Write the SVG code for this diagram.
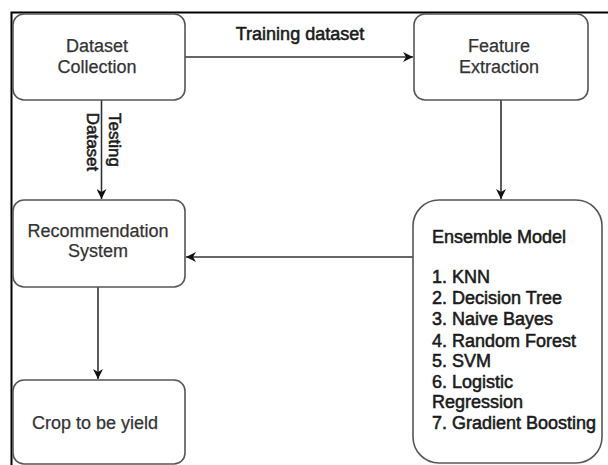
<svg xmlns="http://www.w3.org/2000/svg" width="608" height="465" viewBox="0 0 608 465">
<style>
.box{fill:#fff;stroke:#555;stroke-width:1.6}
.lbl{font-family:"Liberation Sans",Arial,sans-serif;font-size:18px;fill:#333;stroke:#333;stroke-width:0.25}
.dark{font-family:"Liberation Sans",Arial,sans-serif;font-size:18px;fill:#1a1a1a;stroke:#1a1a1a;stroke-width:0.55}
.edge{fill:none;stroke:#333;stroke-width:1.6}
</style>
<defs>
<marker id="arr" markerUnits="userSpaceOnUse" markerWidth="12" markerHeight="10" refX="10" refY="5" orient="auto">
<path d="M0,0 L10,5 L0,10 L3,5 Z" fill="#111"/>
</marker>
</defs>
<rect width="608" height="465" fill="#fff"/>
<g id="frame">
<path d="M11.5,465 V12.5 H608" fill="none" stroke="#000" stroke-width="2"/>
</g>
<g id="connectors">
<path class="edge" d="M185,57 H413" marker-end="url(#arr)"/>
<path class="edge" d="M501,100 V199" marker-end="url(#arr)"/>
<path class="edge" d="M101.5,100 V199" marker-end="url(#arr)"/>
<path class="edge" d="M413,257 H186" marker-end="url(#arr)"/>
<path class="edge" d="M98,287 V379" marker-end="url(#arr)"/>
<text class="dark" x="300" y="40" text-anchor="middle">Training dataset</text>
<text class="dark" transform="translate(109,140) rotate(90)" text-anchor="middle" style="font-size:17px">Testing</text>
<text class="dark" transform="translate(87,142) rotate(90)" text-anchor="middle" style="font-size:17px">Dataset</text>
</g>
<g id="dataset-collection">
<rect class="box" x="13" y="14" width="172" height="86" rx="11"/>
<text class="lbl" x="97" y="52" text-anchor="middle">Dataset</text>
<text class="lbl" x="97" y="73" text-anchor="middle">Collection</text>
</g>
<g id="feature-extraction">
<rect class="box" x="414" y="14" width="174" height="86" rx="11"/>
<text class="lbl" x="499" y="52" text-anchor="middle">Feature</text>
<text class="lbl" x="499" y="73" text-anchor="middle">Extraction</text>
</g>
<g id="recommendation-system">
<rect class="box" x="13" y="200" width="172" height="87" rx="11"/>
<text class="lbl" x="98" y="237" text-anchor="middle">Recommendation</text>
<text class="lbl" x="98" y="257" text-anchor="middle">System</text>
</g>
<g id="crop-to-be-yield">
<rect class="box" x="13" y="380" width="172" height="84" rx="11"/>
<text class="lbl" x="95" y="429" text-anchor="middle">Crop to be yield</text>
</g>
<g id="ensemble-model">
<rect class="box" x="413" y="200" width="189" height="263" rx="26"/>
<text class="dark" x="432" y="243">Ensemble Model</text>
<text class="dark" x="432" y="283">1. KNN</text>
<text class="dark" x="432" y="304">2. Decision Tree</text>
<text class="dark" x="432" y="325">3. Naive Bayes</text>
<text class="dark" x="432" y="347">4. Random Forest</text>
<text class="dark" x="432" y="367">5. SVM</text>
<text class="dark" x="432" y="388">6. Logistic</text>
<text class="dark" x="432" y="408">Regression</text>
<text class="dark" x="432" y="429">7. Gradient Boosting</text>
</g>
</svg>
